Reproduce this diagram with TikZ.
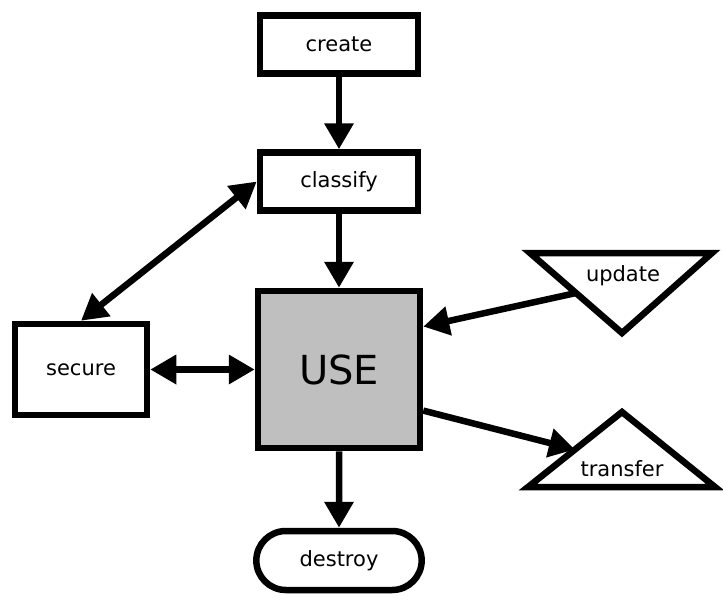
\documentclass[tikz,border=0pt]{standalone}
\usepackage{fontspec}
\setmainfont{DejaVu Sans}
\usetikzlibrary{arrows.meta, shapes.misc, calc}

\begin{document}
\begin{tikzpicture}[x=1pt, y=-1pt, line width=6.5pt,
    box/.style={draw, rectangle, minimum width=158pt, minimum height=58pt, font=\fontsize{21}{25}\selectfont},
    arr/.style={-{Triangle[length=26pt, width=28pt]}},
    biarr/.style={{Triangle[length=26pt, width=28pt]}-{Triangle[length=26pt, width=28pt]}}]
    \useasboundingbox (0,0) rectangle (723,600);

    % Boxes
    \node[box] (create) at (339,44.5) {create};
    \node[box] (classify) at (339,181.5) {classify};
    \node[draw, fill=black!25, minimum width=162pt, minimum height=157pt, font=\fontsize{40}{48}\selectfont] (USE) at (339,369.5) {USE};
    \node[box, minimum width=132pt, minimum height=91pt] (secure) at (81,369.5) {secure};
    \node[draw, rounded rectangle, minimum width=172pt, minimum height=59pt, font=\fontsize{21}{25}\selectfont] (destroy) at (339,560.5) {destroy};

    % Triangles
    \coordinate (upA) at (530,253);
    \coordinate (upB) at (712,253);
    \coordinate (upC) at (622,333);
    \draw[line join=miter] (upA) -- (upB) -- (upC) -- cycle;
    \node[font=\fontsize{21}{25}\selectfont] (update) at (623,276) {update};

    \coordinate (trA) at (622,412);
    \coordinate (trB) at (715,487);
    \coordinate (trC) at (528,487);
    \draw[line join=miter] (trA) -- (trB) -- (trC) -- cycle;
    \node[font=\fontsize{21}{25}\selectfont] (transfer) at (622,469) {transfer};

    % Arrows
    \draw[arr] (create) -- (classify);
    \draw[arr] (classify) -- (USE);
    \draw[arr] (USE) -- (destroy);
    \draw[biarr] (secure.north) -- (classify.west);
    \draw[biarr] (secure.east) -- (USE.west);
    \draw[arr] ($(upA)!0.5!(upC)$) -- (USE.27);
    \draw[arr] (USE.-26) -- ($(trA)!0.5!(trC)$);
\end{tikzpicture}
\end{document}
